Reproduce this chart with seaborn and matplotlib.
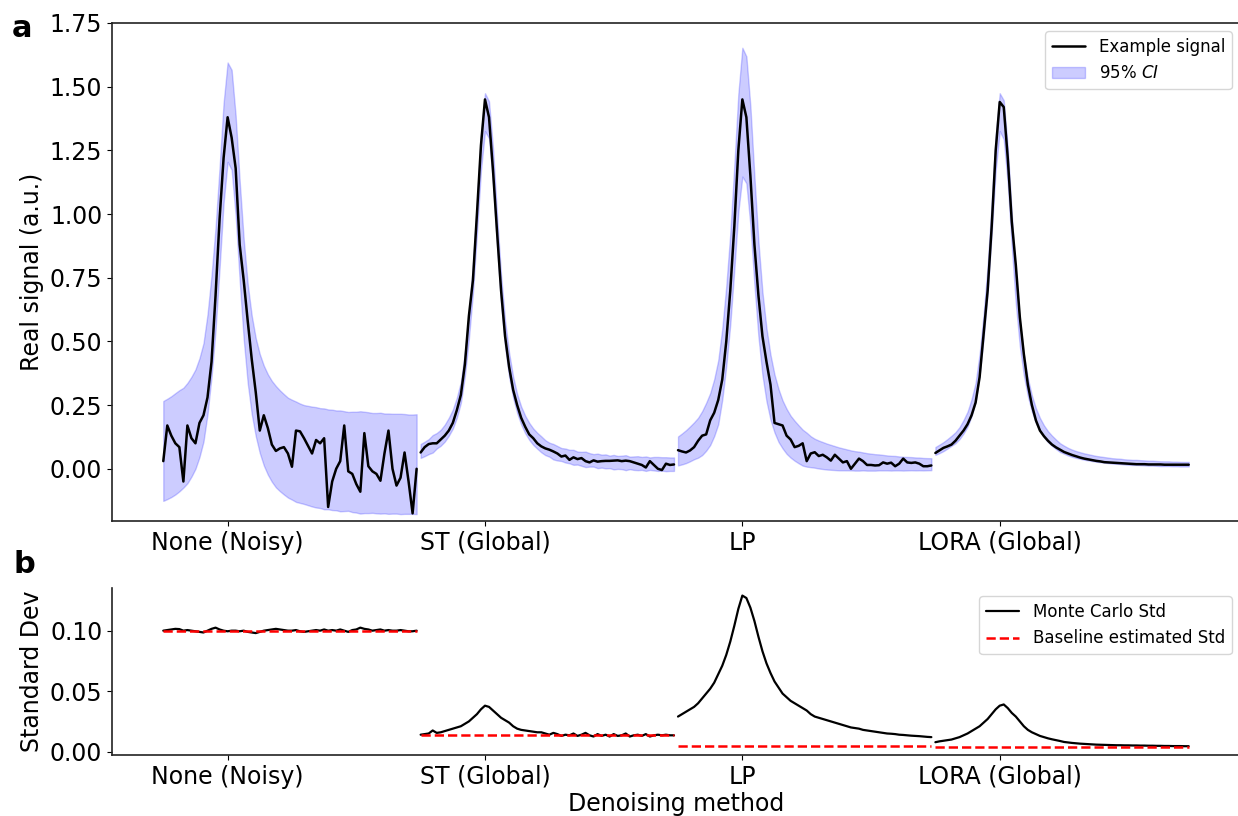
import numpy as np
import pandas as pd
import matplotlib
matplotlib.use("Agg")
import matplotlib.pyplot as plt
import seaborn as sns

# ---------------------------------------------------------------- data
methods = ["None (Noisy)", "ST (Global)", "LP", "LORA (Global)"]
n_points = 64
peak_index = 16

# Monte Carlo mean of the reconstructed spectrum (shared line shape)
mean_signal = [
    0.070, 0.078, 0.087, 0.098, 0.110, 0.122, 0.140, 0.165, 0.195, 0.240,
    0.300, 0.410, 0.560, 0.745, 0.985, 1.240, 1.400, 1.370, 1.190, 0.935,
    0.705, 0.530, 0.408, 0.320, 0.256, 0.209, 0.174, 0.147, 0.126, 0.110,
    0.096, 0.083, 0.075, 0.067, 0.061, 0.056, 0.052, 0.048, 0.045, 0.042,
    0.039, 0.037, 0.035, 0.033, 0.031, 0.030, 0.029, 0.027, 0.026, 0.025,
    0.025, 0.024, 0.023, 0.022, 0.022, 0.021, 0.020, 0.020, 0.020, 0.019,
    0.019, 0.018, 0.018, 0.018,
]

# one example realisation per denoising method
example_none = [
    0.03, 0.17, 0.13, 0.10, 0.085, -0.05, 0.17, 0.12, 0.10, 0.18,
    0.21, 0.28, 0.42, 0.68, 0.98, 1.22, 1.38, 1.30, 1.18, 0.88,
    0.74, 0.58, 0.43, 0.30, 0.15, 0.21, 0.16, 0.095, 0.07, 0.08,
    0.085, 0.06, 0.008, 0.15, 0.147, 0.12, 0.09, 0.06, 0.113, 0.10,
    0.12, -0.15, -0.05, 0.0, 0.03, 0.17, -0.01, -0.02, -0.06, -0.09,
    0.14, 0.01, -0.01, -0.02, -0.047, 0.06, 0.15, 0.0, -0.066, -0.035,
    0.064, -0.05, -0.175, 0.0,
]
example_st = [
    0.064, 0.085, 0.097, 0.10, 0.10, 0.115, 0.13, 0.15, 0.18, 0.23,
    0.29, 0.41, 0.60, 0.74, 1.00, 1.27, 1.45, 1.38, 1.17, 0.93,
    0.70, 0.52, 0.40, 0.31, 0.25, 0.20, 0.165, 0.135, 0.12, 0.10,
    0.088, 0.08, 0.075, 0.068, 0.06, 0.048, 0.052, 0.035, 0.045, 0.038,
    0.042, 0.03, 0.025, 0.033, 0.028, 0.03, 0.031, 0.031, 0.032, 0.033,
    0.03, 0.032, 0.03, 0.025, 0.02, 0.015, 0.005, 0.03, 0.015, 0.0,
    -0.005, 0.02, 0.015, 0.017,
]
example_lp = [
    0.073, 0.068, 0.064, 0.072, 0.085, 0.11, 0.13, 0.135, 0.19, 0.22,
    0.27, 0.35, 0.50, 0.70, 0.95, 1.25, 1.45, 1.38, 1.15, 0.88,
    0.68, 0.52, 0.42, 0.33, 0.18, 0.175, 0.17, 0.13, 0.115, 0.085,
    0.09, 0.10, 0.03, 0.06, 0.065, 0.05, 0.055, 0.045, 0.032, 0.055,
    0.04, 0.025, 0.03, 0.0, 0.02, 0.04, 0.03, 0.015, 0.015, 0.013,
    0.014, 0.025, 0.02, 0.024, 0.01, 0.02, 0.04, 0.025, 0.023, 0.025,
    0.02, 0.01, 0.01, 0.013,
]
example_lora = [
    0.062, 0.072, 0.082, 0.088, 0.095, 0.11, 0.13, 0.15, 0.175, 0.21,
    0.26, 0.36, 0.53, 0.70, 0.95, 1.25, 1.44, 1.42, 1.22, 0.97,
    0.80, 0.595, 0.45, 0.33, 0.25, 0.19, 0.15, 0.128, 0.11, 0.095,
    0.084, 0.075, 0.066, 0.06, 0.054, 0.049, 0.044, 0.04, 0.037, 0.034,
    0.031, 0.029, 0.026, 0.025, 0.024, 0.023, 0.022, 0.021, 0.02, 0.019,
    0.018, 0.018, 0.018, 0.017, 0.017, 0.017, 0.017, 0.016, 0.016, 0.016,
    0.016, 0.016, 0.016, 0.016,
]

# Monte Carlo standard deviation per point
std_none = [
    0.100, 0.1005, 0.101, 0.1015, 0.1013, 0.100, 0.1005, 0.100, 0.0995, 0.099,
    0.0985, 0.100, 0.1015, 0.1025, 0.101, 0.100, 0.0995, 0.100, 0.100, 0.0995,
    0.100, 0.099, 0.0985, 0.098, 0.099, 0.100, 0.1005, 0.101, 0.1015, 0.101,
    0.1005, 0.100, 0.100, 0.1005, 0.0995, 0.099, 0.0995, 0.100, 0.1005, 0.100,
    0.101, 0.100, 0.1005, 0.100, 0.101, 0.100, 0.099, 0.1005, 0.101, 0.1025,
    0.1015, 0.101, 0.100, 0.1005, 0.101, 0.100, 0.1005, 0.100, 0.100, 0.1005,
    0.100, 0.0995, 0.0995, 0.100,
]
std_st = [
    0.014, 0.0145, 0.015, 0.0175, 0.0155, 0.016, 0.017, 0.018, 0.019, 0.020,
    0.021, 0.023, 0.025, 0.028, 0.031, 0.035, 0.038, 0.037, 0.034, 0.031,
    0.028, 0.026, 0.024, 0.021, 0.019, 0.018, 0.0175, 0.017, 0.0165, 0.016,
    0.016, 0.015, 0.014, 0.0155, 0.0145, 0.013, 0.014, 0.0135, 0.015, 0.013,
    0.014, 0.0155, 0.0135, 0.0125, 0.0145, 0.013, 0.014, 0.0125, 0.0145, 0.013,
    0.0135, 0.015, 0.0125, 0.0135, 0.014, 0.013, 0.0145, 0.0125, 0.0135, 0.014,
    0.0135, 0.014, 0.0135, 0.0135,
]
std_lp = [
    0.029, 0.031, 0.033, 0.035, 0.037, 0.040, 0.044, 0.048, 0.052, 0.057,
    0.064, 0.071, 0.080, 0.091, 0.104, 0.118, 0.129, 0.127, 0.119, 0.108,
    0.095, 0.083, 0.073, 0.065, 0.058, 0.053, 0.048, 0.045, 0.042, 0.040,
    0.038, 0.036, 0.034, 0.031, 0.029, 0.028, 0.027, 0.026, 0.025, 0.024,
    0.023, 0.022, 0.021, 0.020, 0.0195, 0.019, 0.018, 0.0175, 0.017, 0.0165,
    0.016, 0.0155, 0.015, 0.0148, 0.0145, 0.014, 0.0138, 0.0135, 0.0132, 0.013,
    0.0128, 0.0125, 0.0122, 0.012,
]
std_lora = [
    0.0078, 0.0085, 0.009, 0.0095, 0.010, 0.011, 0.012, 0.0135, 0.015, 0.017,
    0.019, 0.021, 0.024, 0.027, 0.031, 0.035, 0.038, 0.039, 0.036, 0.032,
    0.029, 0.025, 0.021, 0.018, 0.016, 0.0145, 0.013, 0.012, 0.011, 0.0102,
    0.0095, 0.0088, 0.008, 0.0076, 0.0072, 0.0069, 0.0066, 0.0064, 0.0062, 0.006,
    0.0058, 0.0057, 0.0056, 0.0055, 0.0054, 0.0053, 0.0053, 0.0052, 0.0052, 0.0051,
    0.0051, 0.005, 0.005, 0.0049, 0.0049, 0.0048, 0.0048, 0.0047, 0.0047, 0.0046,
    0.0046, 0.0046, 0.0045, 0.0045,
]

# analytical (baseline) noise estimate per method
baseline_std = [0.100, 0.014, 0.0045, 0.0035]

examples = [example_none, example_st, example_lp, example_lora]
stds = [std_none, std_st, std_lp, std_lora]

# ---------------------------------------------------------------- tidy table
frames = []
for k, name in enumerate(methods):
    idx = np.arange(n_points)
    mu = np.asarray(mean_signal)
    sd = np.asarray(stds[k])
    frames.append(pd.DataFrame({
        "method": name,
        "x": k * n_points + idx,
        "example": examples[k],
        "lower": mu - 1.96 * sd,
        "upper": mu + 1.96 * sd,
        "mc_std": sd,
        "baseline": baseline_std[k],
    }))
df = pd.concat(frames, ignore_index=True)

# ---------------------------------------------------------------- style
sns.set_style("ticks")
plt.rcParams.update({
    "font.family": ["DejaVu Sans"],
    "font.size": 17,
    "axes.labelsize": 17,
    "xtick.labelsize": 17,
    "ytick.labelsize": 17,
    "legend.fontsize": 12,
    "text.color": "black",
    "axes.labelcolor": "black",
    "xtick.color": "black",
    "ytick.color": "black",
    "axes.edgecolor": "#222222",
    "axes.linewidth": 1.2,
})

fig = plt.figure(figsize=(12.38, 8.16), dpi=100)
W, H = 1238, 816
ax_a = fig.add_axes([112 / W, 1 - 521 / H, 1128 / W, 498 / H])
ax_b = fig.add_axes([112 / W, 1 - 755 / H, 1128 / W, 167 / H])

tick_pos = [k * n_points + peak_index for k in range(len(methods))]

# panel a: example signal with 95% confidence band
for k, name in enumerate(methods):
    sub = df[df["method"] == name]
    kw = {"label": "Example signal"} if k == 0 else {}
    sns.lineplot(data=sub, x="x", y="example", color="black", linewidth=1.8,
                 ax=ax_a, legend=False, **kw)
    ax_a.fill_between(sub["x"], sub["lower"], sub["upper"], color="blue",
                      alpha=0.2, linewidth=1.0,
                      label="95% $CI$" if k == 0 else None)

ax_a.set_ylim(-0.205, 1.75)
ax_a.set_yticks(np.arange(0, 1.76, 0.25))
ax_a.set_xticks(tick_pos)
ax_a.set_xticklabels(methods)
ax_a.set_xlabel("")
ax_a.set_ylabel("Real signal (a.u.)")
ax_a.spines["right"].set_visible(False)
ax_a.legend(loc="upper right")

# panel b: Monte Carlo standard deviation vs. baseline estimate
for k, name in enumerate(methods):
    sub = df[df["method"] == name]
    kw_mc = {"label": "Monte Carlo Std"} if k == 0 else {}
    kw_bl = {"label": "Baseline estimated Std"} if k == 0 else {}
    sns.lineplot(data=sub, x="x", y="mc_std", color="black", linewidth=1.6,
                 ax=ax_b, legend=False, **kw_mc)
    sns.lineplot(data=sub, x="x", y="baseline", color="red", linewidth=1.8,
                 linestyle="--", ax=ax_b, legend=False, **kw_bl)

ax_b.set_xlim(ax_a.get_xlim())
ax_b.set_yticks([0.0, 0.05, 0.10])
ax_b.set_xticks(tick_pos)
ax_b.set_xticklabels(methods)
ax_b.set_xlabel("Denoising method", labelpad=2)
ax_b.set_ylabel("Standard Dev")
sns.despine(ax=ax_b)
ax_b.legend(loc="upper right")

fig.text(12 / W, 1 - 14 / H, "a", fontsize=22, fontweight="bold", va="top")
fig.text(14 / W, 1 - 550 / H, "b", fontsize=22, fontweight="bold", va="top")

fig.savefig("out.png", dpi=100)
